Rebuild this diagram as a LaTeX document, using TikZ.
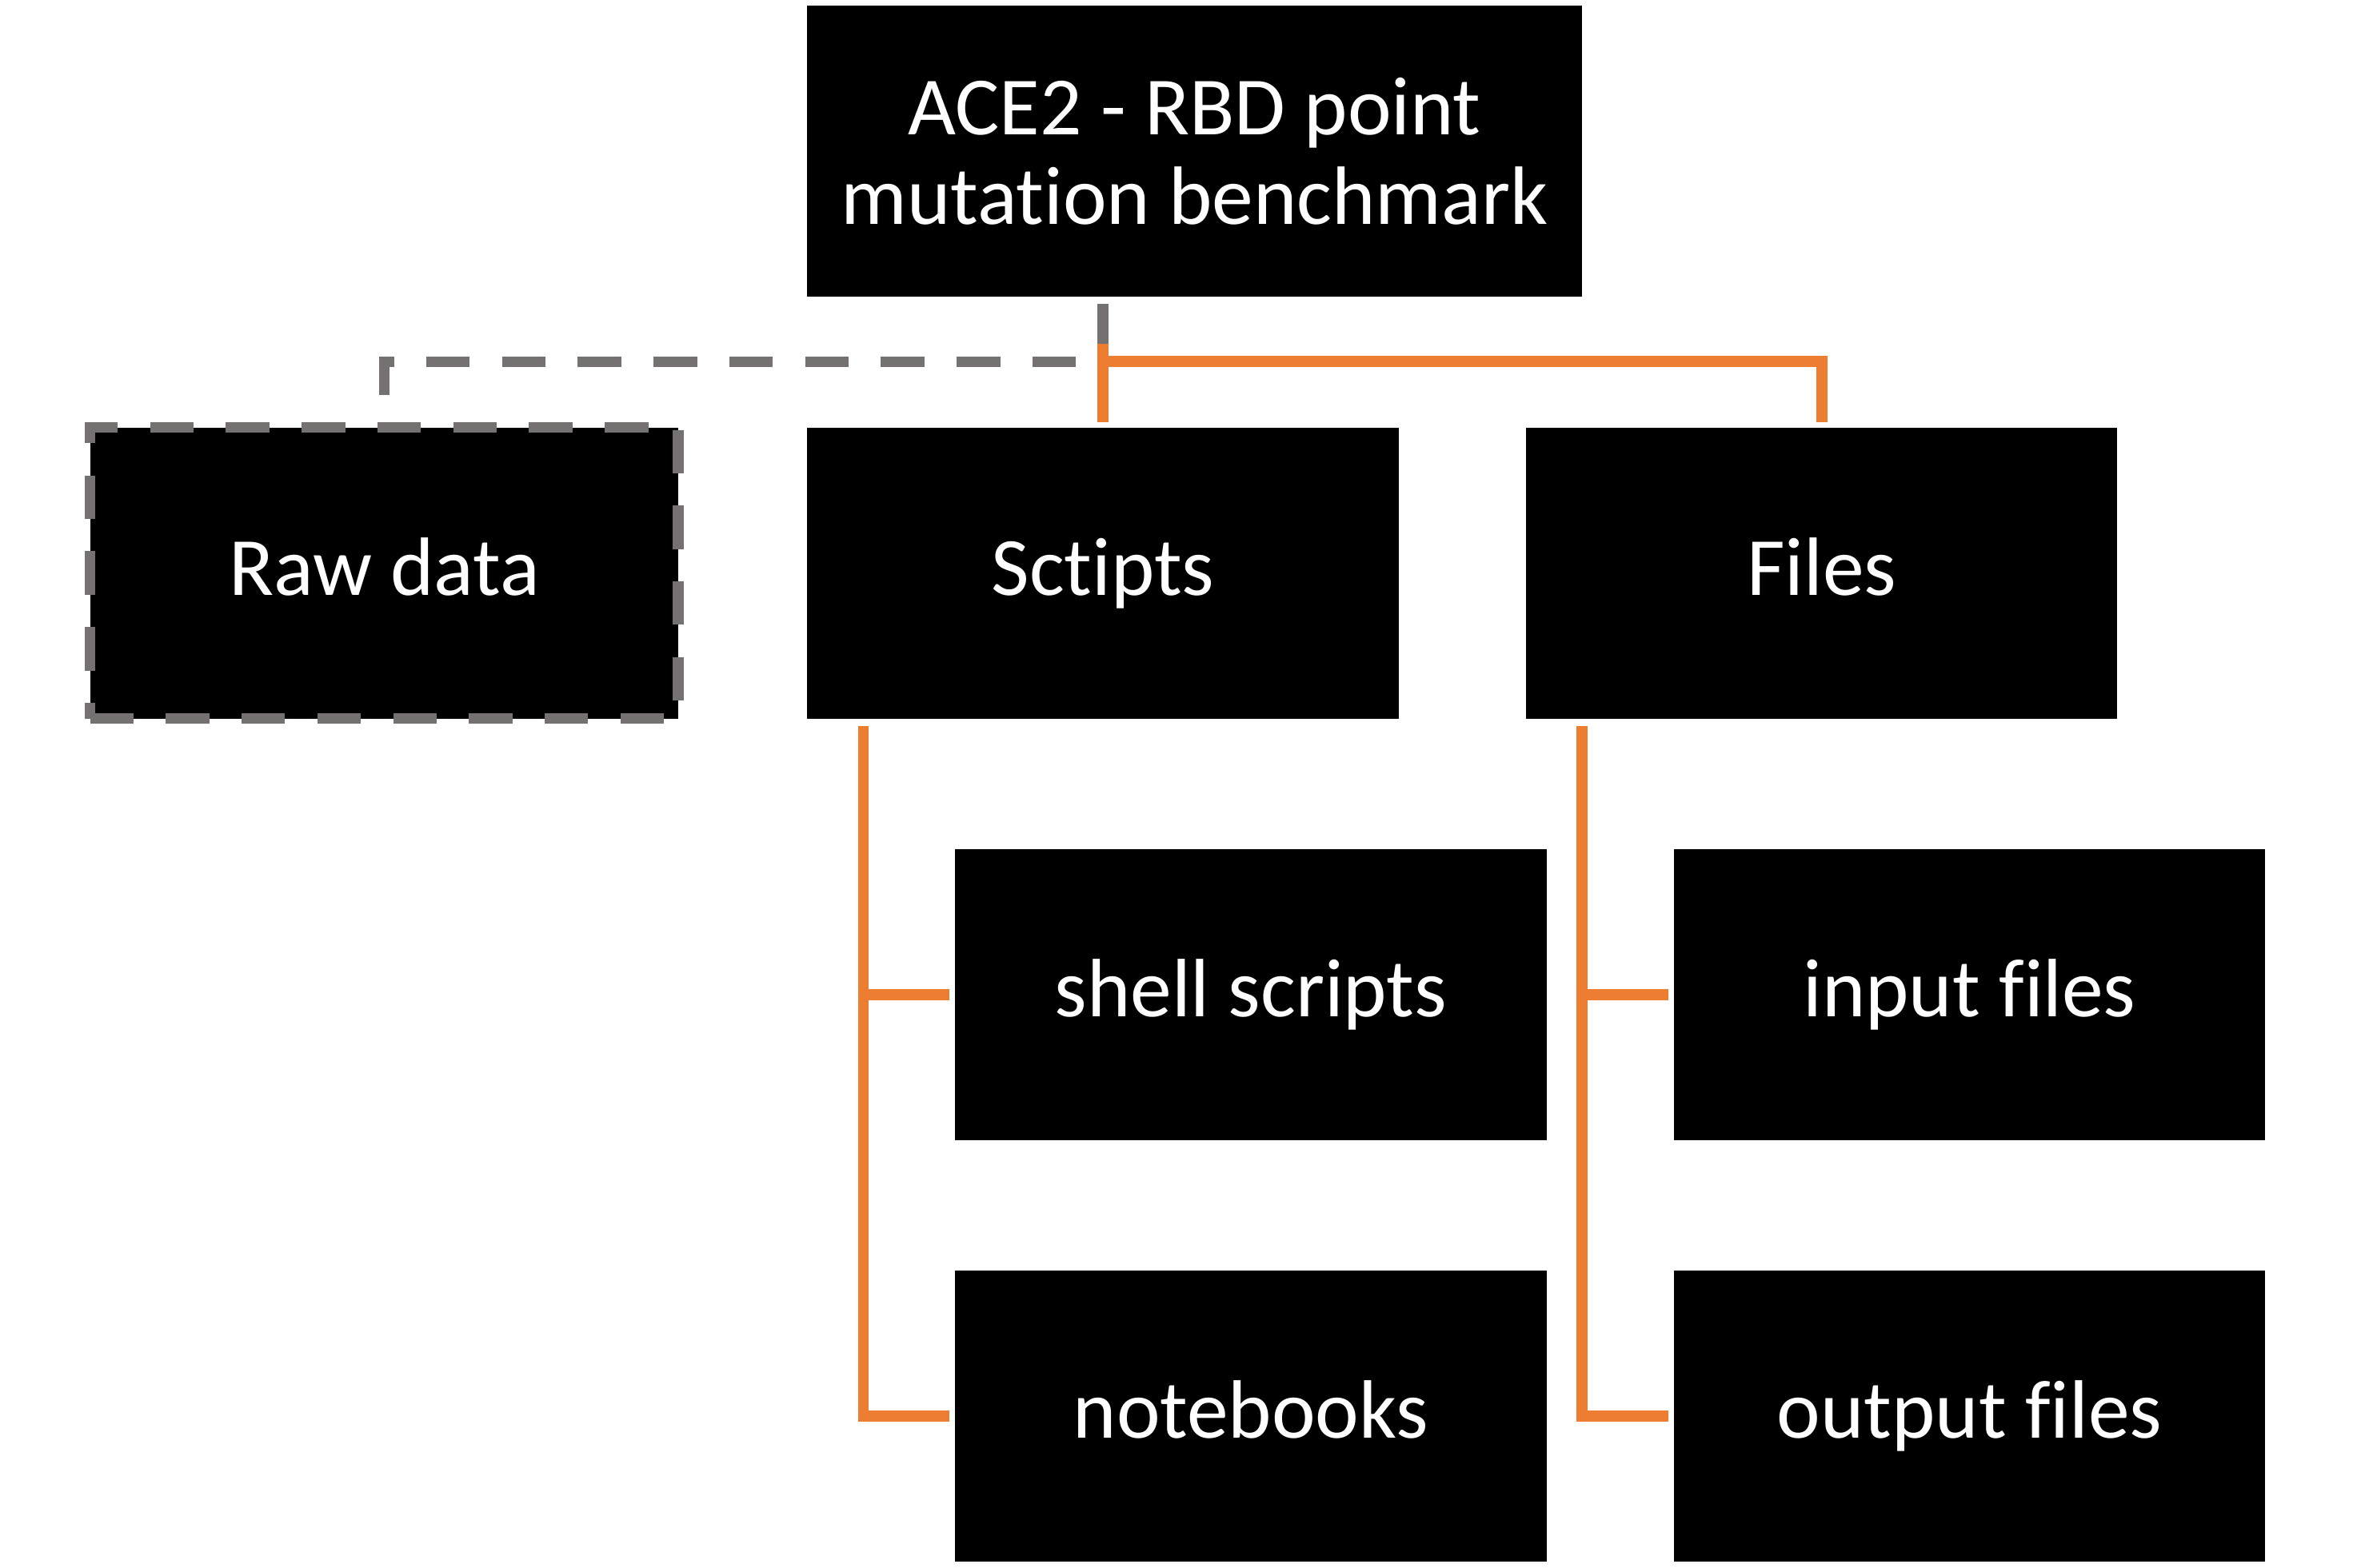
\documentclass[tikz,border=0pt]{standalone}
\usepackage{fontspec}
\setmainfont{Carlito}[RawFeature={-liga;-clig;-calt;-dlig}]
\definecolor{treeorange}{HTML}{ED7D31}
\definecolor{linkgrey}{HTML}{767171}

\tikzset{
  box/.style={fill=black, text=white, minimum width=3.94cm, minimum height=1.94cm,
    inner sep=0pt, align=center, font=\fontsize{15.7}{17}\selectfont},
  onebox/.style={box, text height=1em, text depth=0.17em},
  tree/.style={draw=treeorange, line width=2.1pt},
  rawlink/.style={draw=linkgrey, line width=2pt, dash pattern=on 0.29cm off 0.215cm},
}

\begin{document}
\begin{tikzpicture}
  % Cadre
  \useasboundingbox (0,0) rectangle (15.68,10.45);

  % Boites
  \node[box, minimum width=5.16cm] (ACE) at (7.96,9.44) {ACE2 - RBD point\\mutation benchmark};
  \node[onebox, rawlink, minimum width=3.92cm, minimum height=1.94cm] (RAW) at (2.56,6.63) {Raw data};
  \node[onebox] (SCR) at (7.35,6.63) {Sctipts};
  \node[onebox] (FIL) at (12.14,6.63) {Files};
  \node[onebox] (SHL) at (8.335,3.82) {shell scripts};
  \node[onebox] (NTB) at (8.335,1.01) {notebooks};
  \node[onebox] (INP) at (13.125,3.82) {input files};
  \node[onebox] (OUT) at (13.125,1.01) {output files};

  % Points de branchement
  \coordinate (J) at (SCR.north |- 0,8.04);
  \coordinate (S) at ([xshift=0.38cm,yshift=-0.04cm]SCR.south west);
  \coordinate (F) at ([xshift=0.38cm,yshift=-0.04cm]FIL.south west);

  % Liens du haut
  \draw[linkgrey, line width=2pt] ([yshift=-0.04cm]ACE.south -| SCR.north) -- ([yshift=0.12cm]J);
  \draw[rawlink] ([yshift=0.18cm]RAW.north) |- (J);
  \draw[tree] ([yshift=0.12cm]J) -- ([yshift=0.03cm]SCR.north);
  \draw[tree] (J) -| ([yshift=0.03cm]FIL.north);

  % Sous-dossiers
  \draw[tree] (S) |- ([xshift=-0.03cm]SHL.west);
  \draw[tree] (S) |- ([xshift=-0.03cm]NTB.west);
  \draw[tree] (F) |- ([xshift=-0.03cm]INP.west);
  \draw[tree] (F) |- ([xshift=-0.03cm]OUT.west);

\end{tikzpicture}
\end{document}
